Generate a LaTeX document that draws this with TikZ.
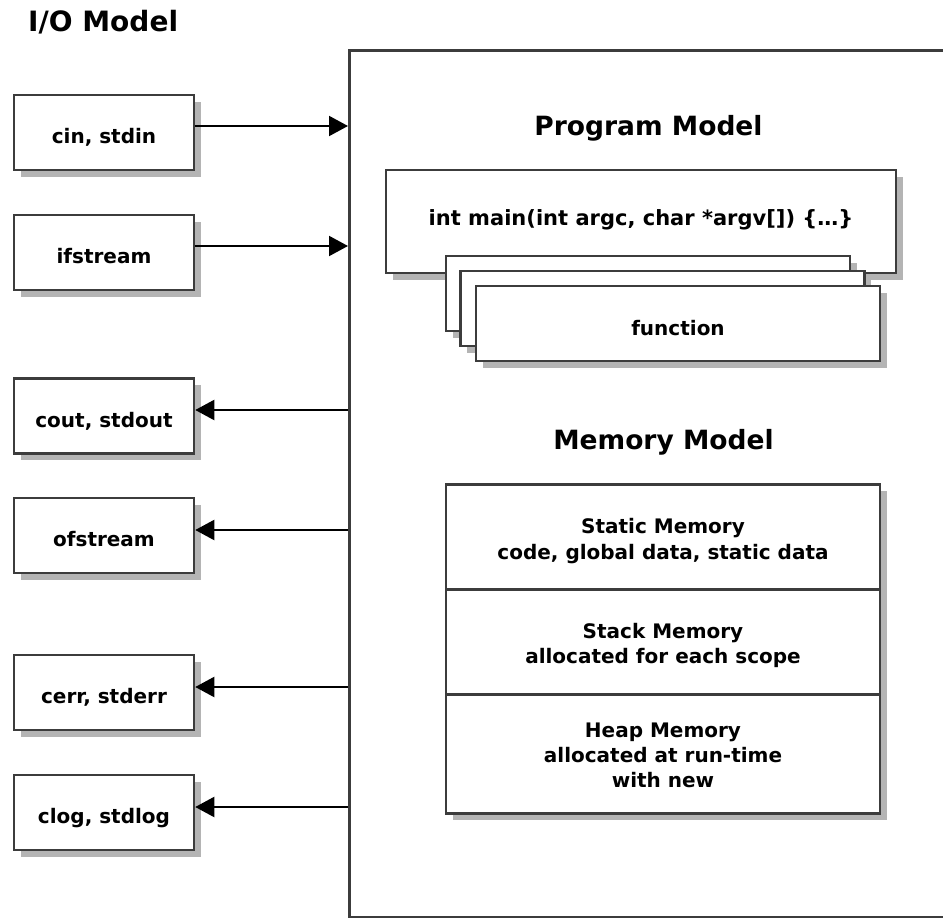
\documentclass[tikz,border=0pt]{standalone}
\usepackage{fontspec}
\setmainfont{DejaVu Sans}
\usetikzlibrary{shadows,arrows.meta}
\definecolor{edge}{HTML}{3C3C3C}
\definecolor{shade}{HTML}{B4B4B4}
\tikzset{
 box/.style={draw=edge, line width=2.5pt, fill=white, inner sep=0pt,
   general shadow={fill=shade, shadow xshift=6.5pt, shadow yshift=-6.5pt}},
 iobox/.style={box, minimum width=180pt, minimum height=75pt,
   font=\fontsize{20}{24}\selectfont\bfseries, text height=22pt, text depth=0pt},
 funcbox/.style={box, minimum width=404pt, minimum height=75pt,
   font=\fontsize{20}{24}\selectfont\bfseries, text height=23pt, text depth=0pt},
 memcell/.style={box, minimum width=434pt, anchor=north},
 memtext/.style={anchor=base, inner sep=0pt, font=\fontsize{20}{24}\selectfont\bfseries},
 titletext/.style={anchor=base, inner sep=0pt, font=\fontsize{26.5}{30}\selectfont\bfseries},
 arr/.style={line width=2pt, draw=black, -{Triangle[length=19pt,width=20pt]}},
}
\begin{document}
\begin{tikzpicture}[x=1pt,y=-1pt]
\useasboundingbox (0,0) rectangle (943,918);
\clip (0,0) rectangle (943,918);

% titles
\node[titletext, anchor=base west, font=\fontsize{28}{32}\selectfont\bfseries] (iotitle) at (28,31) {I/O Model};
\node[titletext] (progtitle) at (648.5,135) {Program Model};
\node[titletext] (memtitle) at (663.5,449) {Memory Model};

% container
\node[draw=edge, line width=2.5pt, minimum width=700pt, minimum height=867pt, anchor=north west, inner sep=0pt] (cont) at (348,49) {};

% I/O boxes
\node[iobox] (cin) at (104,132.5) {cin, stdin};
\node[iobox] (ifs) at (104,252.5) {ifstream};
\node[iobox] (cout) at (104,416) {cout, stdout};
\node[iobox] (ofs) at (104,535.5) {ofstream};
\node[iobox] (cerr) at (104,692.5) {cerr, stderr};
\node[iobox] (clog) at (104,812.5) {clog, stdlog};

% arrow anchor points
\coordinate (pcin) at ([yshift=6.5pt]cin.east);
\coordinate (pifs) at ([yshift=6.5pt]ifs.east);
\coordinate (pcout) at ([yshift=6pt]cout.east);
\coordinate (pofs) at ([yshift=5.5pt]ofs.east);
\coordinate (pcerr) at ([yshift=5.5pt]cerr.east);
\coordinate (pclog) at ([yshift=5.5pt]clog.east);

\draw[arr] (pcin) -- (pcin -| cont.west);
\draw[arr] (pifs) -- (pifs -| cont.west);
\draw[arr] (pcout -| cont.west) -- (pcout);
\draw[arr] (pofs -| cont.west) -- (pofs);
\draw[arr] (pcerr -| cont.west) -- (pcerr);
\draw[arr] (pclog -| cont.west) -- (pclog);

% program model
\node[box, minimum width=510pt, minimum height=103pt, font=\fontsize{21}{25}\selectfont\bfseries, text height=7pt, text depth=0pt] (main) at (641,221.5) {int main(int argc, char *argv[]) \{…\}};
\node[funcbox] (f1) at (648,293.5) {};
\node[funcbox] (f2) at (662.5,308.5) {};
\node[funcbox] (f3) at (678,323.5) {function};

% memory model
\node[memcell, minimum height=105pt] (static) at (663,483) {};
\node[memcell, minimum height=105pt] (stack) at (663,588) {};
\node[memcell, minimum height=119pt] (heap) at (663,693) {};

\node[memtext] (s1) at (663,533) {Static Memory};
\node[memtext] (s2) at (663,559) {code, global data, static data};
\node[memtext] (k1) at (663,638) {Stack Memory};
\node[memtext] (k2) at (663,663) {allocated for each scope};
\node[memtext] (h1) at (663,737) {Heap Memory};
\node[memtext] (h2) at (663,762) {allocated at run-time};
\node[memtext] (h3) at (663,787) {with new};
\end{tikzpicture}
\end{document}
